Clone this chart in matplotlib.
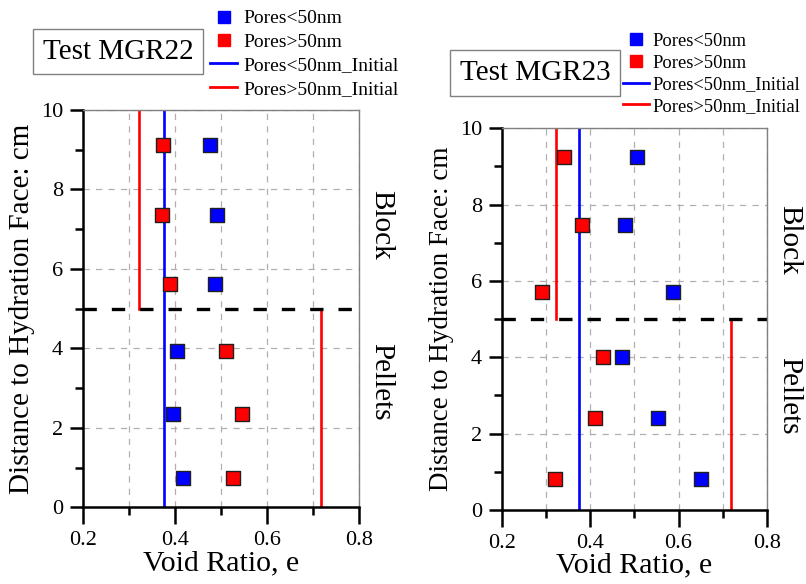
import numpy as np
import matplotlib.pyplot as plt
from matplotlib.lines import Line2D
from matplotlib.ticker import MultipleLocator

plt.rcParams['font.family'] = ['Liberation Serif', 'DejaVu Serif']

# depth of each sample (cm from hydration face)
depth22 = [9.13, 7.36, 5.62, 3.94, 2.34, 0.75]
small22 = [0.475, 0.490, 0.486, 0.403, 0.396, 0.416]   # pores < 50 nm
large22 = [0.373, 0.371, 0.388, 0.510, 0.546, 0.525]   # pores > 50 nm

depth23 = [9.24, 7.46, 5.71, 4.02, 2.42, 0.80]
small23 = [0.506, 0.479, 0.587, 0.471, 0.553, 0.650]
large23 = [0.340, 0.381, 0.289, 0.429, 0.410, 0.320]

# initial void ratios: small pores whole column, large pores block / pellets
init_small = [0.375, 0.373]
init_large_block = [0.322, 0.321]
init_large_pellet = [0.717, 0.718]

tests = ['Test MGR22', 'Test MGR23']

fig = plt.figure(figsize=(8.06, 5.84), dpi=100)
ax1 = fig.add_axes([0.1034, 0.1313, 0.342, 0.6803])
ax2 = fig.add_axes([0.6232, 0.1267, 0.328, 0.6536])

panels = [(ax1, depth22, small22, large22), (ax2, depth23, small23, large23)]
ylabel_size = [21, 19.5]
block_y = [0.71, 0.707]
pellet_y = [0.315, 0.30]

for i, (ax, d, s, l) in enumerate(panels):
    ax.set_xlim(0.2, 0.8)
    ax.set_ylim(0, 10)
    ax.xaxis.set_major_locator(MultipleLocator(0.2))
    ax.xaxis.set_minor_locator(MultipleLocator(0.1))
    ax.yaxis.set_major_locator(MultipleLocator(2))
    ax.yaxis.set_minor_locator(MultipleLocator(1))
    ax.xaxis.set_major_formatter(plt.FormatStrFormatter('%.1f'))
    ax.grid(True, which='both', axis='x', color='#b0b0b0', ls=(0, (5, 5)), lw=0.9)
    ax.grid(True, which='major', axis='y', color='#b0b0b0', ls=(0, (5, 5)), lw=0.9)
    ax.set_axisbelow(True)

    ax.plot([init_small[i]] * 2, [0, 10], color='#0000ff', lw=1.9, zorder=2)
    ax.plot([init_large_block[i]] * 2, [5, 10], color='#ff0000', lw=1.9, zorder=2)
    ax.plot([init_large_pellet[i]] * 2, [0, 5], color='#ff0000', lw=1.9, zorder=2)
    ax.axhline(5, color='black', lw=2.4, ls=(0, (4, 4.5)), zorder=2)

    ax.scatter(s, d, marker='s', s=110, color='#0000ff', edgecolors='#202020', linewidths=1, zorder=3)
    ax.scatter(l, d, marker='s', s=110, color='#ff0000', edgecolors='#202020', linewidths=1, zorder=3)

    for side in ['left', 'bottom']:
        ax.spines[side].set_linewidth(1.8)
        ax.spines[side].set_color('black')
    for side in ['top', 'right']:
        ax.spines[side].set_linewidth(1.0)
        ax.spines[side].set_color('#808080')
    ax.tick_params(which='major', direction='out', length=9.5, width=1.8, labelsize=16, pad=5)
    ax.tick_params(which='minor', direction='out', length=5.5, width=1.8)
    ax.tick_params(axis='x', which='major', length=12)

    ax.set_xlabel('Void Ratio, e', fontsize=21.5, labelpad=0)
    ax.set_ylabel('Distance to Hydration Face: cm', fontsize=ylabel_size[i], labelpad=4)

    ax.text(1.035, block_y[i], 'Block', transform=ax.transAxes, rotation=-90,
            fontsize=21, va='center', ha='left')
    ax.text(1.035, pellet_y[i], 'Pellets', transform=ax.transAxes, rotation=-90,
            fontsize=21, va='center', ha='left')

# title boxes
fig.text(0.1464, 0.9118, tests[0], fontsize=21, ha='center', va='center',
         bbox=dict(boxstyle='square,pad=0.33', fc='white', ec='#808080', lw=1))
fig.text(0.6638, 0.875, tests[1], fontsize=21, ha='center', va='center',
         bbox=dict(boxstyle='square,pad=0.33', fc='white', ec='#808080', lw=1))

handles = [
    Line2D([], [], marker='s', ls='none', color='#0000ff', markersize=8),
    Line2D([], [], marker='s', ls='none', color='#ff0000', markersize=8),
    Line2D([], [], color='#0000ff', lw=2),
    Line2D([], [], color='#ff0000', lw=2),
]
labels = ['Pores<50nm', 'Pores>50nm', 'Pores<50nm_Initial', 'Pores>50nm_Initial']

fig.legend(handles, labels, loc='upper left', bbox_to_anchor=(0.256, 0.99), frameon=False,
           fontsize=14, handlelength=1.4, handletextpad=0.3, labelspacing=0.3,
           borderpad=0.2, borderaxespad=0)
fig.legend(handles, labels, loc='upper left', bbox_to_anchor=(0.7686, 0.95), frameon=False,
           fontsize=13.3, handlelength=1.4, handletextpad=0.2, labelspacing=0.25,
           borderpad=0.2, borderaxespad=0)

fig.savefig('out.png', dpi=100)
